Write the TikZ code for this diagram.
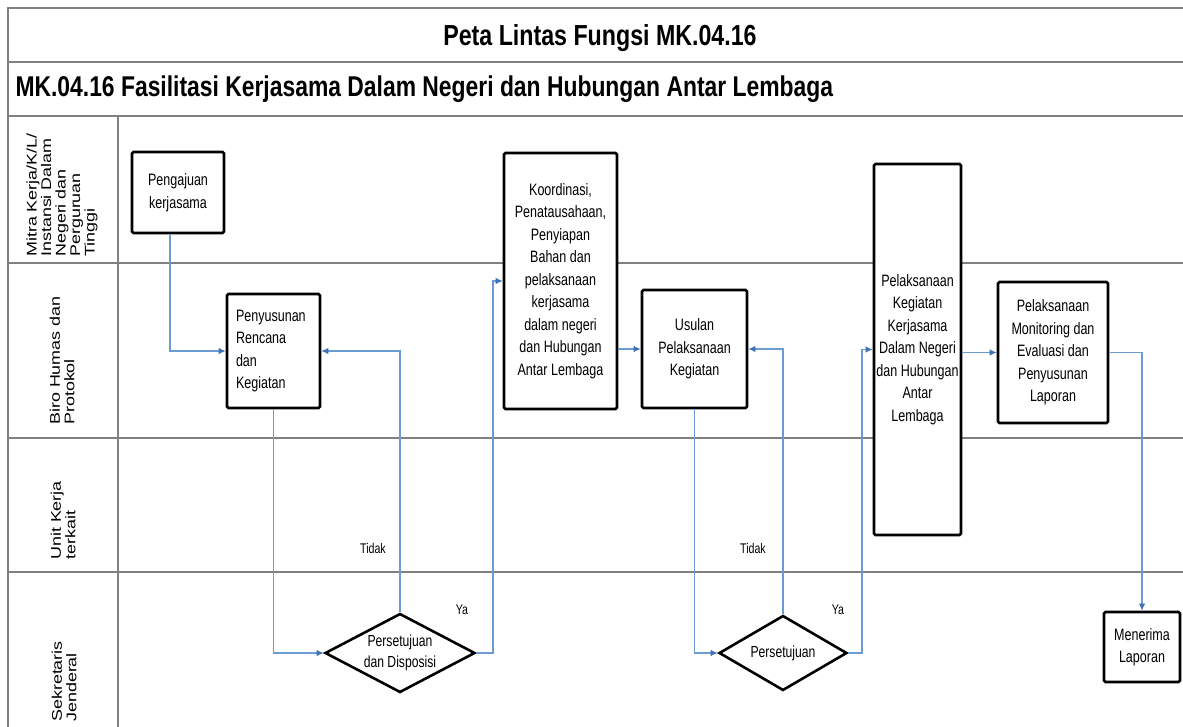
\documentclass[tikz,border=0pt]{standalone}
\usepackage{fontspec}
\setmainfont{Liberation Sans}
\newfontfamily\nf{Liberation Sans}[FakeStretch=0.76]
\newfontfamily\tf{Liberation Sans}[FakeStretch=0.8]
\newfontfamily\lf{Liberation Sans}[FakeStretch=1.28]
\usetikzlibrary{shapes.geometric,arrows.meta}
\definecolor{gridgray}{HTML}{808080}
\definecolor{flowblue}{HTML}{6C9BD2}
\definecolor{tipblue}{HTML}{3F72B8}
\tikzset{
  gridline/.style={draw=gridgray, line width=2.2pt},
  box/.style={draw=black, line width=2.6pt, rounded corners=1.5pt, fill=white,
    inner sep=2pt, align=center, font=\nf\fontsize{16.5}{22.5}\selectfont},
  dia/.style={diamond, draw=black, line width=2.6pt, shape aspect=1.9, inner sep=0pt,
    fill=white, align=center, font=\nf\fontsize{16}{21}\selectfont},
  flow/.style={draw=flowblue, line width=1.3pt,
    -{Latex[length=7pt,width=6.5pt,color=tipblue]}},
  lane/.style={rotate=90, anchor=west, align=left, inner sep=0pt,
    font=\lf\fontsize{14}{14.5}\selectfont},
  lbl/.style={font=\nf\fontsize{14}{16}\selectfont, inner sep=0pt}
}
\begin{document}
\begin{tikzpicture}[x=1pt,y=-1pt]
\useasboundingbox (0,0) rectangle (1183,727);
% frame
\draw[gridline] (8,727) -- (8,8) -- (1183,8);
\draw[gridline] (8,62) -- (1183,62);
\draw[gridline] (8,116) -- (1183,116);
\draw[gridline] (118,116) -- (118,727);
\draw[gridline] (8,263) -- (1183,263);
\draw[gridline] (8,438) -- (1183,438);
\draw[gridline] (8,572) -- (1183,572);
% titles
\node[font=\tf\bfseries\fontsize{29}{31}\selectfont] (title) at (600,38) {Peta Lintas Fungsi MK.04.16};
\node[anchor=west, font=\tf\bfseries\fontsize{28.6}{31}\selectfont] (sub) at (12,89) {MK.04.16 Fasilitasi Kerjasama Dalam Negeri dan Hubungan Antar Lembaga};
% lane labels
\node[lane] (l1) at (62,257) {Mitra Kerja/K/L/\\Instansi Dalam\\Negeri dan\\Perguruan\\Tinggi};
\node[lane] (l2) at (62,425) {Biro Humas dan\\Protokol};
\node[lane] (l3) at (63,560) {Unit Kerja\\terkait};
\node[lane] (l4) at (64,722) {Sekretaris\\Jenderal};
% boxes
\node[box, minimum width=92pt, minimum height=81pt] (peng) at (178,192.5) {Pengajuan\\kerjasama};
\node[box, minimum width=93pt, minimum height=114pt, text width=75pt, align=left] (peny) at (273.5,351) {Penyusunan\\Rencana\\dan\\Kegiatan};
\node[box, minimum width=113pt, minimum height=256pt] (koor) at (560.5,281) {Koordinasi,\\Penatausahaan,\\Penyiapan\\Bahan dan\\pelaksanaan\\kerjasama\\dalam negeri\\dan Hubungan\\Antar Lembaga};
\node[box, minimum width=105pt, minimum height=118pt] (usul) at (694.5,349) {Usulan\\Pelaksanaan\\Kegiatan};
\node[box, minimum width=87pt, minimum height=371pt] (pelk) at (917.5,349.5) {Pelaksanaan\\Kegiatan\\Kerjasama\\Dalam Negeri\\dan Hubungan\\Antar\\Lembaga};
\node[box, minimum width=110pt, minimum height=141pt] (mon) at (1053,352.5) {Pelaksanaan\\Monitoring dan\\Evaluasi dan\\Penyusunan\\Laporan};
\node[box, minimum width=76pt, minimum height=70pt] (men) at (1142,647) {Menerima\\Laporan};
% decisions
\node[dia, minimum width=150pt, minimum height=79pt] (d1) at (400,653) {Persetujuan\\dan Disposisi};
\node[dia, minimum width=128pt, minimum height=75pt] (d2) at (783,653) {Persetujuan};
% helper coordinates
\coordinate (x170) at (170,0);
\coordinate (x493) at (493,0);
\coordinate (x862) at (862,0);
% connectors
\draw[flow] (peng.south -| x170) |- (peny.west);
\draw[flow] (peny.south) |- (d1.west);
\draw[flow] (d1.north) |- (peny.east);
\draw[flow] (d1.east) -- (d1.east -| x493) |- (koor.west);
\draw[flow] (koor.east |- usul.west) -- (usul.west);
\draw[flow] (usul.south) |- (d2.west);
\draw[flow] (d2.north) |- (usul.east);
\draw[flow] (d2.east) -- (d2.east -| x862) |- (pelk.west);
\draw[flow] (pelk.east |- mon.west) -- (mon.west);
\draw[flow] (mon.east) -| (men.north);
% labels
\node[lbl] (t1) at (373,548) {Tidak};
\node[lbl] (t2) at (753,548) {Tidak};
\node[lbl] (y1) at (462,610) {Ya};
\node[lbl] (y2) at (838,610) {Ya};
\end{tikzpicture}
\end{document}
